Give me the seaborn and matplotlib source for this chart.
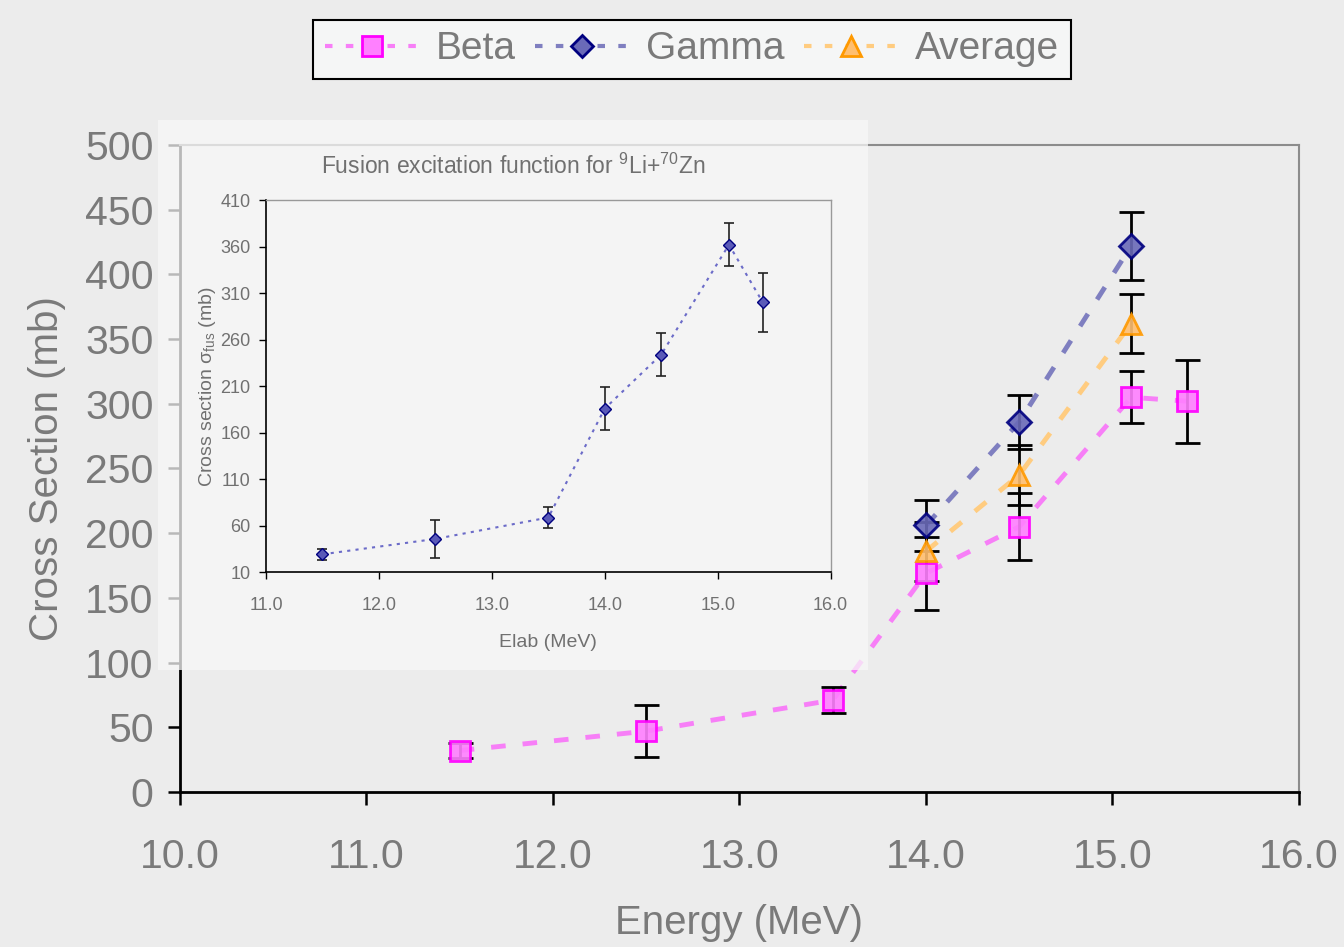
import matplotlib
matplotlib.use("Agg")
import matplotlib.pyplot as plt
import seaborn as sns
import pandas as pd
from matplotlib.patches import Rectangle
from matplotlib.lines import Line2D

# main chart data
beta_e = [11.5, 12.5, 13.5, 14.0, 14.5, 15.1, 15.4]
beta_xs = [32, 47, 71, 169, 205, 305, 302]
beta_err = [6, 20, 10, 28, 26, 20, 32]

gamma_e = [14.0, 14.5, 15.1]
gamma_xs = [206, 286, 422]
gamma_err = [20, 21, 26]

avg_e = [14.0, 14.5, 15.1]
avg_xs = [186, 245, 362]
avg_err = [23, 23, 23]

# inset data
fus_e = [11.5, 12.5, 13.5, 14.0, 14.5, 15.1, 15.4]
fus_xs = [29.5, 46, 69, 186, 244, 362, 300]
fus_err = [6, 20, 11, 23, 23, 23, 32]

sns.set_style("white")
plt.rcParams['font.family'] = ['Liberation Sans', 'DejaVu Sans']

fig = plt.figure(figsize=(13.44, 9.47), dpi=100)
fig.patch.set_facecolor('#ececec')

ax = fig.add_axes([0.1339, 0.1637, 0.8326, 0.6832])
ax.set_facecolor('#ececec')

series = [
    ("Beta", beta_e, beta_xs, beta_err, 's', '#ff80ff', '#ff00ff', '#f77ff7', 15),
    ("Gamma", gamma_e, gamma_xs, gamma_err, 'D', '#6a6ab8', '#000080', '#7f7fc0', 12),
    ("Average", avg_e, avg_xs, avg_err, '^', '#ffbf70', '#ff9900', '#ffcc80', 15),
]

handles = []
for name, e, xs, err, mk, fc, ec, lc, ms in series:
    df = pd.DataFrame({"E": e, "xs": xs})
    sns.lineplot(data=df, x="E", y="xs", ax=ax, color=lc, lw=3.5,
                 dashes=False, zorder=2)
    ax.lines[-1].set_dashes([3, 3.5])
    ax.errorbar(e, xs, yerr=err, fmt='none', ecolor='black', elinewidth=2,
                capsize=9, capthick=2, zorder=3)
    ax.plot(e, xs, ls='none', marker=mk, ms=ms, mfc=fc, mec=ec, mew=2,
            alpha=0.9, zorder=4)
    handles.append(Line2D([0], [0], color=lc, lw=3, dashes=[1.8, 3.2],
                          marker=mk, ms=ms - 1, mfc=fc, mec=ec, mew=2))

ax.set_xlim(10, 16)
ax.set_ylim(0, 500)
ax.set_xticks([10, 11, 12, 13, 14, 15, 16])
ax.set_xticklabels([f"{v:.1f}" for v in range(10, 17)])
ax.set_yticks(range(0, 501, 50))
ax.tick_params(axis='both', labelsize=29.5, labelcolor='#7a7a7a', direction='out',
               length=9, width=1.8, color='black', bottom=True, left=True)
ax.tick_params(axis='x', pad=24)
ax.tick_params(axis='y', pad=10)
for s in ['left', 'bottom']:
    ax.spines[s].set_color('black')
    ax.spines[s].set_linewidth(2)
for s in ['top', 'right']:
    ax.spines[s].set_color('#8c8c8c')
    ax.spines[s].set_linewidth(1.5)
ax.set_xlabel("Energy (MeV)", fontsize=29, color='#7a7a7a', labelpad=20)
ax.set_ylabel("Cross Section (mb)", fontsize=29, color='#7a7a7a', labelpad=14)

leg = fig.legend(handles, ["Beta", "Gamma", "Average"], loc='center',
                 bbox_to_anchor=(0.5149, 0.948), ncol=3, fontsize=28,
                 frameon=True, fancybox=False, edgecolor='black',
                 facecolor='#f5f6f6', framealpha=1, handlelength=2.4,
                 handletextpad=0.45, columnspacing=0.5, borderpad=0.3,
                 borderaxespad=0.1)
leg.get_frame().set_linewidth(1.5)
for t in leg.get_texts():
    t.set_color('#7a7a7a')

# translucent panel behind the inset
fig.patches.append(Rectangle((0.1176, 0.2925), 0.5282, 0.5808,
                             transform=fig.transFigure, facecolor='#f7f7f7',
                             edgecolor='none', alpha=0.75, zorder=1))

axi = fig.add_axes([0.1979, 0.3955, 0.4201, 0.3933], zorder=3)
axi.set_facecolor('#f4f4f4')
dfi = pd.DataFrame({"E": fus_e, "xs": fus_xs})
sns.lineplot(data=dfi, x="E", y="xs", ax=axi, color='#6b6bc8', lw=1.5, zorder=2)
axi.lines[-1].set_dashes([1.5, 2.5])
axi.errorbar(fus_e, fus_xs, yerr=fus_err, fmt='none', ecolor='#222222',
             elinewidth=1.2, capsize=3.5, capthick=1.2, zorder=3)
axi.plot(fus_e, fus_xs, ls='none', marker='D', ms=6, mfc='#5a5ab8',
         mec='#000080', mew=1, zorder=4)
axi.set_xlim(11, 16)
axi.set_ylim(10, 410)
axi.set_xticks([11, 12, 13, 14, 15, 16])
axi.set_xticklabels([f"{v:.1f}" for v in range(11, 17)])
axi.set_yticks(range(10, 411, 50))
axi.tick_params(axis='both', labelsize=13, labelcolor='#707070', direction='out',
                length=5, width=1, color='black', bottom=True, left=True)
axi.tick_params(axis='x', pad=13)
axi.tick_params(axis='y', pad=6)
for s in ['left', 'bottom']:
    axi.spines[s].set_color('black')
    axi.spines[s].set_linewidth(1.2)
for s in ['top', 'right']:
    axi.spines[s].set_color('#999999')
    axi.spines[s].set_linewidth(1)
axi.set_xlabel("Elab (MeV)", fontsize=14, color='#707070', labelpad=14)
axi.set_ylabel(r"Cross section $\mathregular{\sigma_{fus}}$ (mb)", fontsize=14,
               color='#707070', labelpad=2)
axi.set_title(r"Fusion excitation function for $\mathregular{^{9}}$Li+$\mathregular{^{70}}$Zn",
              fontsize=16.5, color='#707070', pad=19, x=0.437)

fig.savefig("out.png", dpi=100, facecolor=fig.get_facecolor())
